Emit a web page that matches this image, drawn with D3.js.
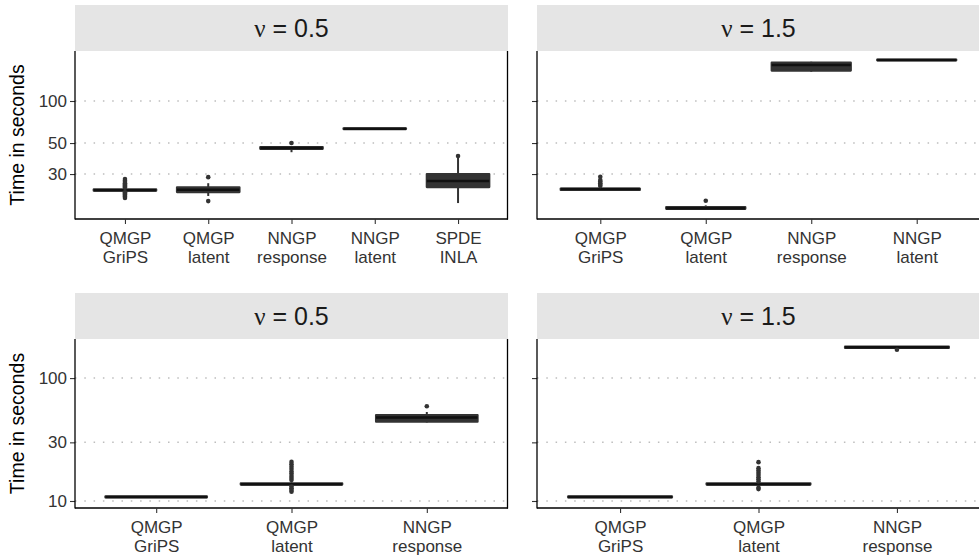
<!DOCTYPE html>
<html>
<head>
<meta charset="utf-8">
<script src="https://cdn.jsdelivr.net/npm/d3@7"></script>
<style>
  body { margin: 0; background: #fff; }
  text { font-family: "Liberation Sans", Arial, sans-serif; }
</style>
</head>
<body>
<div id="vis"></div>
<script>
// categories per row
var catsTopLeft = ["QMGP|GriPS", "QMGP|latent", "NNGP|response", "NNGP|latent", "SPDE|INLA"];
var catsTopRight = ["QMGP|GriPS", "QMGP|latent", "NNGP|response", "NNGP|latent"];
var catsBottom = ["QMGP|GriPS", "QMGP|latent", "NNGP|response"];

// box stats: [lower whisker, q1, median, q3, upper whisker]
var statsTopLeft = [
  [22.4, 22.8, 23.0, 23.3, 23.8],
  [20.9, 22.3, 23.2, 24.1, 25.8],
  [43.0, 45.5, 46.0, 46.8, 47.5],
  [62.6, 63.0, 63.3, 63.7, 64.0],
  [18.6, 24.2, 26.7, 30.0, 39.5]
];
var statsTopRight = [
  [22.8, 23.1, 23.4, 23.6, 24.3],
  [16.6, 16.9, 17.1, 17.4, 17.9],
  [162, 165, 181, 188, 191],
  [194, 195.5, 196.5, 197.5, 199]
];
var statsBottomLeft = [
  [10.6, 10.7, 10.8, 10.9, 11.0],
  [13.3, 13.6, 13.7, 13.9, 14.2],
  [43.5, 44.2, 47.9, 50.0, 53.0]
];
var statsBottomRight = [
  [10.6, 10.7, 10.8, 10.9, 11.0],
  [13.3, 13.6, 13.7, 13.9, 14.2],
  [174, 176, 178, 180, 182]
];

// outliers
var outTopLeft = [
  [20.2, 20.6, 21.0, 21.4, 21.8, 22.2, 24.0, 24.4, 24.8, 25.3, 25.8, 26.3, 26.9, 27.6],
  [19.2, 28.5],
  [50.0],
  [],
  [40.4]
];
var outTopRight = [
  [24.6, 25.2, 25.8, 26.5, 27.2, 28.7],
  [19.3],
  [],
  []
];
var outBottomLeft = [
  [],
  [11.9, 12.3, 12.7, 13.1, 14.8, 15.4, 16.0, 16.7, 17.4, 18.2, 19.0, 19.9, 20.8],
  [59.0]
];
var outBottomRight = [
  [],
  [12.5, 12.8, 14.4, 15.0, 15.6, 16.3, 17.0, 17.7, 18.5, 20.7],
  [170]
];

var ticksTop = [30, 50, 100];
var ticksBottom = [10, 30, 100];
var domainTop = [14.3, 228];
var domainBottom = [8.77, 208];
var stripLabels = ["0.5", "1.5", "0.5", "1.5"];

var W = 979, H = 557;
var svg = d3.select("#vis").append("svg").attr("width", W).attr("height", H);

var panels = [
  {x0: 75, x1: 508, s0: 5, y0: 51, y1: 219, cats: catsTopLeft, stats: statsTopLeft, outs: outTopLeft, ticks: ticksTop, dom: domainTop, labels: true, nu: stripLabels[0]},
  {x0: 537, x1: 980, s0: 5, y0: 51, y1: 219, cats: catsTopRight, stats: statsTopRight, outs: outTopRight, ticks: ticksTop, dom: domainTop, labels: false, nu: stripLabels[1]},
  {x0: 75, x1: 508, s0: 293, y0: 339, y1: 508, cats: catsBottom, stats: statsBottomLeft, outs: outBottomLeft, ticks: ticksBottom, dom: domainBottom, labels: true, nu: stripLabels[2]},
  {x0: 537, x1: 980, s0: 293, y0: 339, y1: 508, cats: catsBottom, stats: statsBottomRight, outs: outBottomRight, ticks: ticksBottom, dom: domainBottom, labels: false, nu: stripLabels[3]}
];

var dark = "#333333";

panels.forEach(function(p) {
  var g = svg.append("g");

  var x = d3.scalePoint().domain(p.cats).range([p.x0, p.x1]).padding(0.6);
  var y = d3.scaleLog().domain(p.dom).range([p.y1, p.y0]);
  var bw = x.step() * 0.75;

  // strip
  g.append("rect")
    .attr("x", p.x0).attr("y", p.s0)
    .attr("width", p.x1 - p.x0).attr("height", p.y0 - p.s0)
    .attr("fill", "#e5e5e5");
  var st = g.append("text")
    .attr("x", (p.x0 + p.x1) / 2).attr("y", p.s0 + 32)
    .attr("text-anchor", "middle")
    .attr("font-size", 25).attr("fill", "#1a1a1a");
  st.append("tspan").style("font-family", "'Liberation Serif', serif").text("ν");
  st.append("tspan").text(" = " + p.nu);

  // grid lines
  g.selectAll(".grid")
    .data(p.ticks)
    .enter()
    .append("line")
    .attr("x1", p.x0).attr("x2", p.x1)
    .attr("y1", function(d) { return y(d); })
    .attr("y2", function(d) { return y(d); })
    .attr("stroke", "#bdbdbd")
    .attr("stroke-width", 1.5)
    .attr("stroke-dasharray", "1.5,7.8");

  // y axis
  var ya = g.append("g")
    .attr("transform", "translate(" + p.x0 + ",0)")
    .call(d3.axisLeft(y).tickValues(p.ticks).tickSize(5).tickSizeOuter(0).tickFormat(d3.format("d")));
  ya.select(".domain").remove();
  ya.selectAll(".tick line").attr("stroke", "#333").attr("stroke-width", 1.1);
  ya.selectAll(".tick text")
    .attr("font-size", 17).attr("fill", "#333").attr("x", -8)
    .style("font-family", "'Liberation Sans', Arial, sans-serif")
    .style("display", p.labels ? null : "none");

  g.append("line")
    .attr("x1", p.x0).attr("x2", p.x0)
    .attr("y1", p.y0).attr("y2", p.y1 + 0.5)
    .attr("stroke", "#000").attr("stroke-width", 1.3);
  if (p.x1 < W) {
    g.append("line")
      .attr("x1", p.x1 - 0.5).attr("x2", p.x1 - 0.5)
      .attr("y1", p.y0).attr("y2", p.y1 + 0.5)
      .attr("stroke", "#000").attr("stroke-width", 1.3);
  }

  // x axis
  var xa = g.append("g")
    .attr("transform", "translate(0," + p.y1 + ")")
    .call(d3.axisBottom(x).tickSize(5).tickSizeOuter(0));
  xa.select(".domain").attr("stroke", "#000").attr("stroke-width", 1.3)
    .attr("d", "M" + p.x0 + ",0H" + p.x1);
  xa.selectAll(".tick line").attr("stroke", "#333").attr("stroke-width", 1.1);
  xa.selectAll(".tick text").each(function(d) {
    var t = d3.select(this);
    var parts = d.split("|");
    t.text(null).attr("y", 0).attr("dy", null)
      .attr("font-size", 17).attr("fill", "#333")
      .style("font-family", "'Liberation Sans', Arial, sans-serif");
    parts.forEach(function(s, i) {
      t.append("tspan").attr("x", 0).attr("y", 24.5 + i * 19).text(s);
    });
  });

  // boxes
  var boxes = g.selectAll(".box")
    .data(p.stats)
    .enter()
    .append("g");

  boxes.append("line")
    .attr("x1", function(d, i) { return x(p.cats[i]); })
    .attr("x2", function(d, i) { return x(p.cats[i]); })
    .attr("y1", function(d) { return y(d[0]); })
    .attr("y2", function(d) { return y(d[4]); })
    .attr("stroke", dark).attr("stroke-width", 2);

  boxes.append("rect")
    .attr("x", function(d, i) { return x(p.cats[i]) - bw / 2; })
    .attr("y", function(d) { return y(d[3]); })
    .attr("width", bw)
    .attr("height", function(d) { return Math.max(0.5, y(d[1]) - y(d[3])); })
    .attr("fill", dark)
    .attr("stroke", dark)
    .attr("stroke-width", 2.2)
    .attr("stroke-linejoin", "round");

  boxes.append("line")
    .attr("x1", function(d, i) { return x(p.cats[i]) - bw / 2; })
    .attr("x2", function(d, i) { return x(p.cats[i]) + bw / 2; })
    .attr("y1", function(d) { return y(d[2]); })
    .attr("y2", function(d) { return y(d[2]); })
    .attr("stroke", "#111").attr("stroke-width", 2.5);

  // outliers
  p.outs.forEach(function(arr, i) {
    g.selectAll(".o" + i)
      .data(arr)
      .enter()
      .append("circle")
      .attr("cx", x(p.cats[i]))
      .attr("cy", function(d) { return y(d); })
      .attr("r", 2.3)
      .attr("fill", dark);
  });

  // y title
  if (p.labels) {
    var cy = (p.y0 + p.y1) / 2;
    g.append("text")
      .attr("transform", "translate(24," + cy + ") rotate(-90)")
      .attr("text-anchor", "middle")
      .attr("font-size", 19.5).attr("fill", "#000")
      .text("Time in seconds");
  }
});
</script>
</body>
</html>
